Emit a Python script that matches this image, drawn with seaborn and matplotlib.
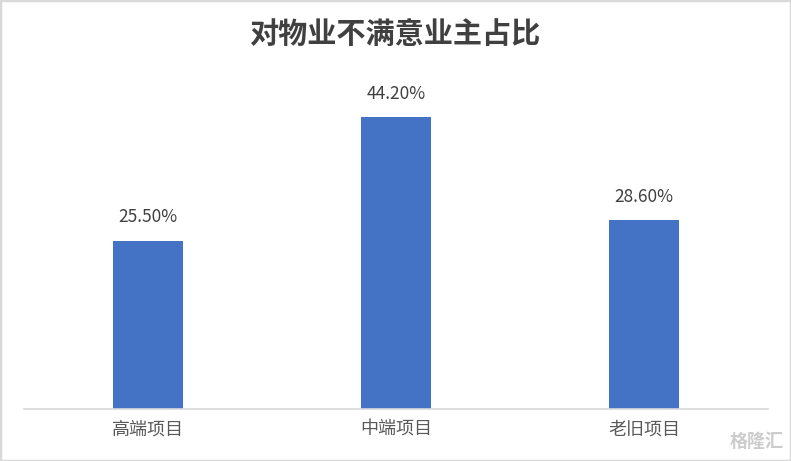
import matplotlib

matplotlib.use("Agg")
import matplotlib.pyplot as plt
import pandas as pd
import seaborn as sns
from matplotlib.patches import Rectangle

categories = ["高端项目", "中端项目", "老旧项目"]
shares = [25.5, 44.2, 28.6]
title = "对物业不满意业主占比"

sns.set_theme(style="white")
plt.rcParams["font.family"] = ["Noto Sans CJK SC", "DejaVu Sans"]

df = pd.DataFrame({"category": categories, "share": shares})

fig = plt.figure(figsize=(7.91, 4.61), dpi=100)
ax = fig.add_axes([24 / 791, 52 / 461, 744 / 791, 330 / 461])
sns.barplot(data=df, x="category", y="share", color="#4472C4", saturation=1,
            width=0.28, edgecolor="none", linewidth=0, ax=ax)

ax.set_ylim(0, 50)
ax.set_xlim(-0.5, 2.5)
ax.set_yticks([])
ax.set_xlabel("")
ax.set_ylabel("")
for side in ["top", "left", "right"]:
    ax.spines[side].set_visible(False)
ax.spines["bottom"].set_color("#d9d9d9")
ax.spines["bottom"].set_linewidth(1.2)
ax.tick_params(axis="x", length=0, pad=8, labelsize=13, labelcolor="#595959")

for i, v in enumerate(shares):
    ax.text(i, v + 2.2, "{0:.2f}%".format(v), ha="center", va="bottom",
            fontsize=12.5, color="#404040")

fig.text(395 / 791, 1 - 35 / 461, title, ha="center", va="center",
         fontsize=21, fontweight="bold", color="#404040")

# watermark
fig.text(784 / 791, 1 - 441 / 461, "格隆汇", ha="right", va="center",
         fontsize=13, color="#cccccc", fontweight="bold")

fig.patches.append(Rectangle((0, 0), 1, 1, transform=fig.transFigure,
                             fill=False, edgecolor="#d9d9d9", linewidth=2.5))

fig.savefig("out.png", dpi=100)
